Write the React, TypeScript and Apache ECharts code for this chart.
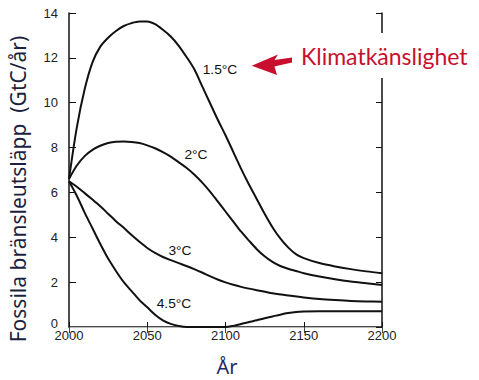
import React, { useEffect, useRef } from "react";
import * as echarts from "echarts";

// Data (years / GtC per year)
const years15 = [2000, 2005, 2010, 2015, 2020, 2025, 2030, 2035, 2040, 2045, 2050, 2055, 2060, 2065, 2070, 2075, 2080, 2085, 2090, 2095, 2100, 2105, 2110, 2115, 2120, 2125, 2130, 2135, 2140, 2145, 2150, 2160, 2170, 2180, 2190, 2200];
const vals15 = [6.6, 8.9, 10.6, 11.8, 12.5, 12.9, 13.2, 13.42, 13.55, 13.62, 13.62, 13.5, 13.25, 12.95, 12.55, 12.05, 11.5, 10.75, 10.0, 9.25, 8.55, 7.8, 7.05, 6.35, 5.7, 5.05, 4.45, 3.95, 3.55, 3.25, 3.07, 2.85, 2.7, 2.58, 2.48, 2.4];

const years2 = [2000, 2005, 2010, 2015, 2020, 2025, 2030, 2035, 2040, 2045, 2050, 2055, 2060, 2065, 2070, 2075, 2080, 2085, 2090, 2095, 2100, 2105, 2110, 2115, 2120, 2125, 2130, 2135, 2140, 2145, 2150, 2160, 2170, 2180, 2190, 2200];
const vals2 = [6.6, 7.2, 7.62, 7.9, 8.08, 8.2, 8.26, 8.27, 8.25, 8.2, 8.1, 7.97, 7.8, 7.6, 7.35, 7.1, 6.8, 6.45, 6.05, 5.6, 5.15, 4.7, 4.25, 3.85, 3.47, 3.15, 2.9, 2.72, 2.6, 2.5, 2.4, 2.25, 2.13, 2.03, 1.95, 1.87];

const years3 = [2000, 2005, 2010, 2015, 2020, 2025, 2030, 2035, 2040, 2045, 2050, 2055, 2060, 2065, 2070, 2075, 2080, 2085, 2090, 2095, 2100, 2105, 2110, 2120, 2130, 2140, 2150, 2160, 2170, 2180, 2190, 2200];
const vals3 = [6.5, 6.25, 5.97, 5.68, 5.38, 5.05, 4.72, 4.42, 4.1, 3.8, 3.52, 3.3, 3.12, 2.98, 2.85, 2.72, 2.58, 2.43, 2.27, 2.12, 1.99, 1.88, 1.79, 1.64, 1.5, 1.4, 1.32, 1.25, 1.2, 1.16, 1.14, 1.13];

const years45 = [2000, 2005, 2010, 2015, 2020, 2025, 2030, 2035, 2040, 2045, 2050, 2055, 2060, 2065, 2070, 2075, 2080, 2090, 2100, 2105, 2110, 2115, 2120, 2125, 2130, 2135, 2140, 2145, 2150, 2160, 2170, 2180, 2190, 2200];
const vals45 = [6.5, 5.85, 5.1, 4.4, 3.7, 3.05, 2.5, 2.0, 1.6, 1.2, 0.88, 0.55, 0.3, 0.14, 0.05, 0, 0, 0, 0, 0.05, 0.13, 0.22, 0.3, 0.39, 0.47, 0.55, 0.62, 0.67, 0.69, 0.7, 0.7, 0.7, 0.7, 0.7];

const curveLabels = ["1.5°C", "2°C", "3°C", "4.5°C"];
const yMinLabel = "0";
const yTitle = "Fossila bränsleutsläpp  (GtC/år)";
const xTitle = "År";
const annotation = "Klimatkänslighet";

const zip = (xs: number[], ys: number[]) => xs.map((x, i) => [x, ys[i]]);

export default function App() {
  const ref = useRef<HTMLDivElement>(null);
  useEffect(() => {
    if (!ref.current) return;
    const chart = echarts.init(ref.current, null, { renderer: "svg" });
    const lineSeries = (data: number[][], name: string) => ({
      type: "line",
      name,
      data,
      smooth: 0.3,
      symbol: "none",
      lineStyle: { color: "#111", width: 2 },
      xAxisIndex: 0,
      yAxisIndex: 0,
    });
    const labelFont = { fontFamily: "Liberation Sans", fontSize: 12, fill: "#111" };
    chart.setOption({
      animation: false,
      backgroundColor: "#fff",
      grid: { left: 69, right: 97, top: 13, bottom: 53, containLabel: false },
      xAxis: [
        {
          type: "value",
          min: 2000,
          max: 2200,
          interval: 50,
          position: "bottom",
          axisLine: { show: true, lineStyle: { color: "#111", width: 1.5 } },
          axisTick: { show: true, inside: true, length: 5, lineStyle: { color: "#111" } },
          axisLabel: { color: "#222", fontSize: 13, lineHeight: 11, fontFamily: "Liberation Sans", margin: 3, formatter: (v: number) => String(v) },
          splitLine: { show: false },
        },
        {
          type: "value",
          min: 2000,
          max: 2200,
          interval: 50,
          position: "top",
          axisLine: { show: true, lineStyle: { color: "#bbb", width: 1 } },
          axisTick: { show: true, inside: true, length: 6, lineStyle: { color: "#444" } },
          axisLabel: { show: false },
          splitLine: { show: false },
        },
      ],
      yAxis: [
        {
          type: "value",
          min: 0,
          max: 14,
          interval: 2,
          position: "left",
          axisLine: { show: true, lineStyle: { color: "#111", width: 1.5 } },
          axisTick: { show: true, inside: true, length: 7, lineStyle: { color: "#111" } },
          axisLabel: { color: "#222", fontSize: 13, lineHeight: 12, fontFamily: "Liberation Sans", margin: 11, showMinLabel: false },
          splitLine: { show: false },
        },
        {
          type: "value",
          min: 0,
          max: 14,
          interval: 2,
          position: "right",
          axisLine: { show: true, lineStyle: { color: "#111", width: 1.5 } },
          axisTick: { show: true, inside: true, length: 6, lineStyle: { color: "#111" } },
          axisLabel: { show: false },
          splitLine: { show: false },
        },
      ],
      series: [
        lineSeries(zip(years15, vals15), curveLabels[0]),
        lineSeries(zip(years2, vals2), curveLabels[1]),
        lineSeries(zip(years3, vals3), curveLabels[2]),
        lineSeries(zip(years45, vals45), curveLabels[3]),
      ],
      graphic: [
        { type: "rect", shape: { x: 376, y: 33, width: 12, height: 45 }, style: { fill: "#fff" }, z: 100 },
        { type: "text", x: 58, y: 323, style: { fontFamily: "Liberation Sans", fontSize: 13, lineHeight: 10, fill: "#222", text: yMinLabel, align: "right", verticalAlign: "middle" }, z: 101 },
        { type: "text", x: 220, y: 70, scaleX: 1.15, style: { ...labelFont, text: curveLabels[0], align: "center", verticalAlign: "middle" }, z: 101 },
        { type: "text", x: 196, y: 155, scaleX: 1.15, style: { ...labelFont, text: curveLabels[1], align: "center", verticalAlign: "middle" }, z: 101 },
        { type: "text", x: 180, y: 251, scaleX: 1.15, style: { ...labelFont, text: curveLabels[2], align: "center", verticalAlign: "middle" }, z: 101 },
        { type: "text", x: 174, y: 304, scaleX: 1.15, style: { ...labelFont, text: curveLabels[3], align: "center", verticalAlign: "middle" }, z: 101 },
        {
          type: "text",
          x: 18,
          y: 189,
          rotation: Math.PI / 2,
          style: { text: yTitle, fontFamily: "Noto Sans", fontSize: 21, fill: "#1c1f3e", align: "center", verticalAlign: "middle" },
          z: 101,
        },
        {
          type: "text",
          x: 227,
          y: 366,
          style: { text: xTitle, fontFamily: "Noto Sans", fontSize: 20, fill: "#1f2a6b", align: "center", verticalAlign: "middle" },
          z: 101,
        },
        {
          type: "text",
          x: 301,
          y: 56,
          style: { text: annotation, fontFamily: "Lato", fontSize: 23, fill: "#c8102e", align: "left", verticalAlign: "middle" },
          z: 101,
        },
        {
          type: "polygon",
          shape: { points: [[251.7, 65.7], [278, 54.5], [274.5, 60], [292, 57.5], [292, 62.5], [274.5, 66.5], [277, 75]] },
          style: { fill: "#c8102e" },
          z: 101,
        },
      ],
    });
    return () => chart.dispose();
  }, []);
  return <div ref={ref} style={{ width: 479, height: 380, position: "absolute", left: 0, top: 0 }} />;
}
